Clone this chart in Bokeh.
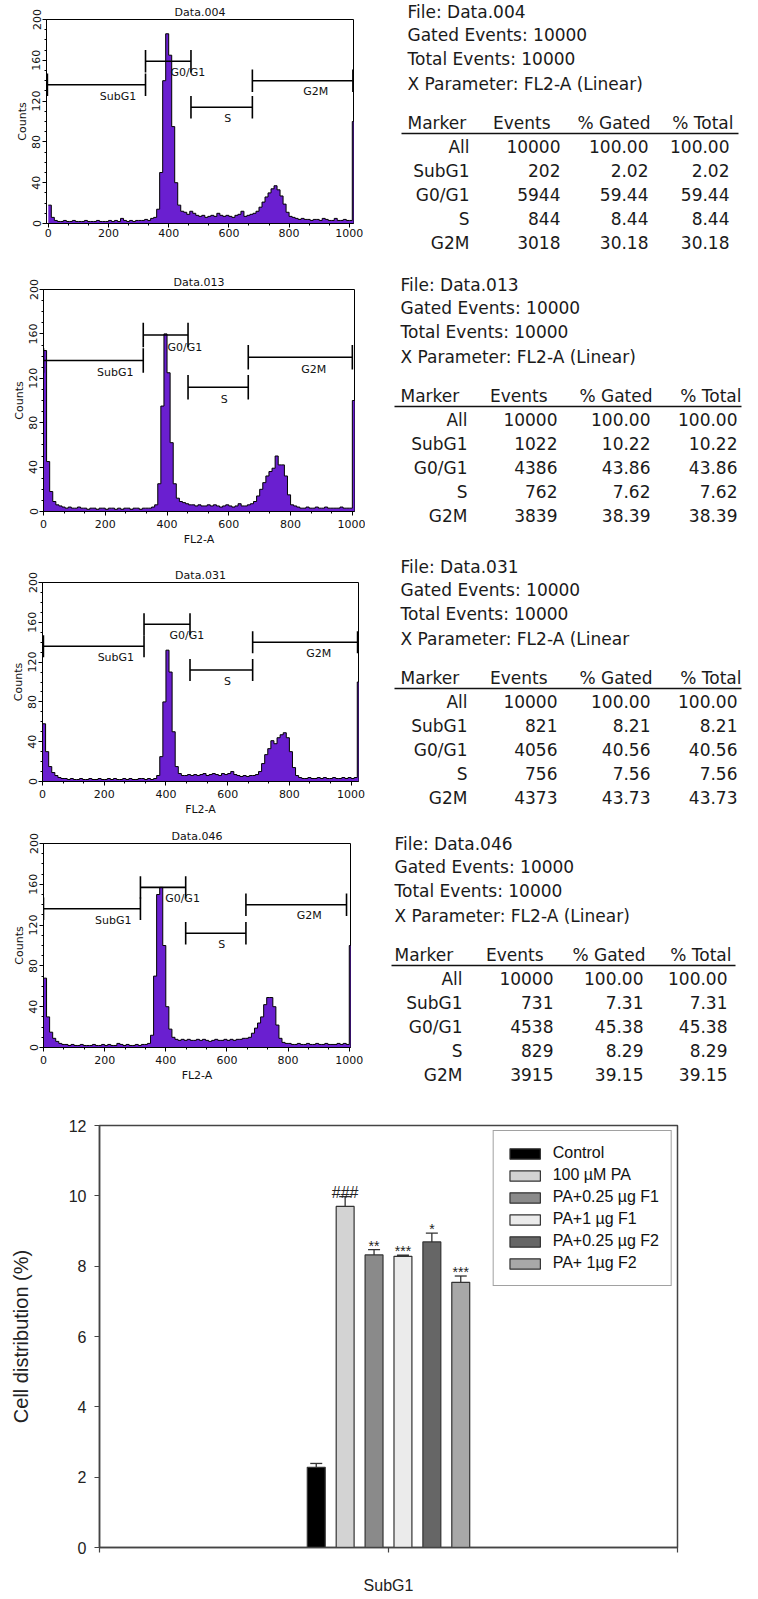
import numpy as np
from bokeh.plotting import figure
from bokeh.layouts import column, row
from bokeh.models import (ColumnDataSource, FixedTicker, Legend, LegendItem,
                          Whisker, TeeHead, Range1d, Label)
from bokeh.core.properties import value
from bokeh.embed import file_html
from bokeh.resources import INLINE

# ------------------------------------------------------------------ data
bin_left = list(range(0, 1030, 10))      # FL2-A channel, left edge of each 10-channel bin
BIN_W = 10

files = ["Data.004", "Data.013", "Data.031", "Data.046"]

counts_004 = [
    18, 6, 3, 2, 2, 3, 2, 2, 3, 2,
    2, 2, 3, 2, 2, 2, 3, 2, 2, 2,
    3, 2, 3, 2, 5, 3, 2, 3, 2, 3,
    3, 3, 4, 3, 5, 6, 14, 50, 140, 186,
    165, 95, 40, 18, 12, 11, 9, 12, 10, 8,
    7, 8, 6, 7, 8, 7, 10, 8, 7, 8,
    7, 6, 8, 9, 12, 7, 8, 9, 10, 12,
    16, 21, 26, 30, 34, 37, 33, 27, 19, 11,
    7, 6, 5, 4, 5, 4, 4, 3, 4, 4,
    3, 5, 4, 3, 3, 5, 3, 3, 4, 3,
    3, 100, 3,
]
counts_013 = [
    145, 45, 18, 9, 6, 5, 4, 3, 4, 3,
    3, 4, 3, 3, 2, 3, 3, 2, 3, 3,
    2, 3, 3, 2, 3, 2, 3, 3, 2, 3,
    3, 2, 3, 3, 3, 4, 6, 25, 95, 160,
    125, 62, 25, 12, 9, 8, 7, 6, 6, 5,
    6, 5, 5, 6, 5, 6, 5, 4, 5, 6,
    5, 4, 5, 7, 5, 5, 6, 7, 9, 14,
    20, 26, 32, 36, 39, 50, 42, 42, 32, 15,
    6, 5, 4, 3, 3, 4, 3, 3, 4, 3,
    3, 4, 3, 3, 3, 3, 4, 3, 3, 3,
    100, 3, 3,
]
counts_031 = [
    58, 30, 15, 9, 6, 4, 3, 3, 2, 3,
    2, 2, 3, 2, 2, 3, 2, 2, 3, 2,
    2, 3, 2, 3, 2, 2, 3, 2, 3, 2,
    2, 3, 3, 2, 3, 2, 3, 6, 25, 80,
    132, 110, 50, 15, 8, 6, 6, 7, 6, 7,
    6, 7, 8, 6, 7, 8, 7, 6, 8, 7,
    8, 10, 7, 6, 5, 6, 5, 6, 6, 7,
    10, 18, 27, 33, 41, 38, 44, 47, 49, 44,
    30, 14, 6, 4, 3, 3, 4, 3, 3, 4,
    3, 4, 3, 3, 4, 3, 3, 4, 3, 4,
    3, 4, 100,
]
counts_046 = [
    68, 30, 15, 9, 6, 4, 3, 3, 2, 3,
    2, 2, 3, 2, 2, 2, 3, 2, 2, 3,
    2, 3, 2, 2, 4, 3, 2, 3, 2, 2,
    3, 2, 3, 3, 4, 12, 70, 150, 157, 100,
    40, 18, 10, 8, 7, 8, 7, 8, 7, 7,
    8, 7, 8, 7, 6, 7, 8, 7, 7, 8,
    7, 8, 7, 8, 8, 9, 9, 10, 14, 19,
    24, 30, 42, 49, 49, 40, 22, 9, 5, 4,
    4, 3, 3, 4, 3, 3, 4, 3, 3, 4,
    3, 3, 4, 3, 3, 3, 4, 3, 4, 3,
    100, 3, 3,
]
all_counts = [counts_004, counts_013, counts_031, counts_046]

gate_names = ["SubG1", "G0/G1", "S", "G2M"]
gate_start = [[-3, 323, 474, 678], [0, 323, 468, 663], [3, 329, 478, 681], [0, 317, 465, 662]]
gate_end = [[323, 474, 678, 1012], [323, 468, 663, 1000], [329, 478, 681, 1021], [317, 465, 662, 991]]
gate_level = [[136, 159, 114, 140], [136, 159, 112, 139], [136, 158, 112, 140], [136, 157, 112, 140]]

markers = ["All", "SubG1", "G0/G1", "S", "G2M"]
events = [
    [10000, 202, 5944, 844, 3018],
    [10000, 1022, 4386, 762, 3839],
    [10000, 821, 4056, 756, 4373],
    [10000, 731, 4538, 829, 3915],
]
pct_gated = [
    [100.00, 2.02, 59.44, 8.44, 30.18],
    [100.00, 10.22, 43.86, 7.62, 38.39],
    [100.00, 8.21, 40.56, 7.56, 43.73],
    [100.00, 7.31, 45.38, 8.29, 39.15],
]
pct_total = [
    [100.00, 2.02, 59.44, 8.44, 30.18],
    [100.00, 10.22, 43.86, 7.62, 38.39],
    [100.00, 8.21, 40.56, 7.56, 43.73],
    [100.00, 7.31, 45.38, 8.29, 39.15],
]
x_param = ["X Parameter: FL2-A (Linear)", "X Parameter: FL2-A (Linear)",
           "X Parameter: FL2-A (Linear", "X Parameter: FL2-A (Linear)"]
gated_total = [10000, 10000, 10000, 10000]
header = ["Marker", "Events", "% Gated", "% Total"]

treatments = ["Control", "100 \u00b5M PA", "PA+0.25 \u00b5g F1", "PA+1 \u00b5g F1",
              "PA+0.25 \u00b5g F2", "PA+ 1\u00b5g F2"]
subg1_mean = [2.28, 9.70, 8.32, 8.28, 8.69, 7.54]
subg1_err = [0.11, 0.28, 0.15, 0.03, 0.25, 0.18]
signif = ["", "###", "**", "***", "*", "***"]
bar_colors = ["#000000", "#d3d3d3", "#8a8a8a", "#ebebeb", "#666666", "#a8a8a8"]

# ------------------------------------------------------------------ style / layout
PURPLE = "#6a1fd0"
HFONT = "DejaVu Sans"
TFONT = "DejaVu Sans"
BFONT = "Liberation Sans"
HIST_W = 365
TABLE_W = 385
ROW_H = [254, 294, 270, 274]
HIST_BORDERS = [(46, 12, 19, 31), (43, 11, 35, 36), (42, 7, 34, 36), (43, 15, 25, 45)]
HIST_XR = [(-6, 1014), (0, 1007), (0, 1024), (0, 1004)]
LABEL_FRAC = [0.72, 0.93, 0.6, 0.63]
TICK_HALF = 11

TABLE_TOP = [11, 30, 18, 25]
TABLE_XL = [42, 35, 35, 29]
TABLE_COLS = [[104, 195, 283, 364], [102, 192, 285, 372], [102, 192, 285, 372], [97, 188, 278, 362]]
TABLE_LINE = [(36, 373), (29, 376), (29, 376), (26, 370)]
HDR_SHIFT = [-10, 2, 4]
INFO_OFF = [0, 23, 47, 72]
HDR_OFF = 111
LINE_OFF = 122
ROW0_OFF = 135
ROW_STEP = 24


def hist_panel(i):
    left, right, top, bottom = HIST_BORDERS[i]
    p = figure(width=HIST_W, height=ROW_H[i], x_range=Range1d(*HIST_XR[i]),
               y_range=Range1d(0, 200), min_border_left=left, min_border_right=right,
               min_border_top=top, min_border_bottom=bottom, toolbar_location=None,
               output_backend="svg", title=files[i], frame_align=False)
    cnt = all_counts[i]
    xs = bin_left + [bin_left[-1] + BIN_W]
    ys = cnt + [cnt[-1]]
    p.varea_step(x=xs, y1=[0] * len(xs), y2=ys, step_mode="after", fill_color=PURPLE)
    p.step(x=xs, y=ys, mode="after", line_color="black", line_width=1)

    x0s, x1s, gy = gate_start[i], gate_end[i], gate_level[i]
    p.segment(x0=x0s, y0=gy, x1=x1s, y1=gy, line_color="black", line_width=1.6)
    p.segment(x0=x0s, y0=[y - TICK_HALF for y in gy], x1=x0s, y1=[y + TICK_HALF for y in gy],
              line_color="black", line_width=1.6)
    p.segment(x0=x1s, y0=[y - TICK_HALF for y in gy], x1=x1s, y1=[y + TICK_HALF for y in gy],
              line_color="black", line_width=1.6)
    lx = [a + f * (b - a) for a, b, f in zip(x0s, x1s, LABEL_FRAC)]
    ly = [y - 11 for y in gy]
    p.text(x=lx, y=ly, text=gate_names, text_align="center", text_baseline="middle",
           text_font=value(HFONT), text_font_size="11px", text_color="#111111")

    p.title.align = "center"
    p.title.text_font = HFONT
    p.title.text_font_size = "11px"
    p.title.text_font_style = "normal"
    p.title.text_color = "#111111"
    p.title.standoff = 2

    p.grid.visible = False
    p.outline_line_color = "black"
    p.outline_line_width = 1
    p.xaxis.ticker = FixedTicker(ticks=[0, 200, 400, 600, 800, 1000],
                                 minor_ticks=[k * 200 / 3 for k in range(16)])
    p.yaxis.ticker = FixedTicker(ticks=[0, 40, 80, 120, 160, 200],
                                 minor_ticks=list(range(0, 201, 10)))
    for ax in (p.xaxis, p.yaxis):
        ax.axis_line_color = "black"
        ax.major_tick_line_color = "black"
        ax.minor_tick_line_color = "black"
        ax.major_tick_out = 4
        ax.major_tick_in = 0
        ax.minor_tick_out = 2
        ax.minor_tick_in = 0
        ax.major_label_text_font = HFONT
        ax.major_label_text_font_size = "11px"
        ax.major_label_text_color = "#111111"
        ax.axis_label_text_font = HFONT
        ax.axis_label_text_font_size = "11px"
        ax.axis_label_text_font_style = "normal"
        ax.axis_label_text_color = "#111111"
    p.yaxis.major_label_orientation = "vertical"
    p.yaxis.major_label_standoff = 2
    p.yaxis.axis_label = "Counts"
    p.yaxis.axis_label_standoff = 1
    if i == 0:
        p.xaxis.major_label_standoff = 1
    else:
        p.xaxis.major_label_standoff = 4
        p.xaxis.axis_label = "FL2-A"
        p.xaxis.axis_label_standoff = 2
    return p


def table_panel(i):
    h = ROW_H[i]
    # frame = whole figure, data units = pixels from the top-left corner
    t = figure(width=TABLE_W, height=h, x_range=Range1d(0, TABLE_W), y_range=Range1d(h, 0),
               min_border=0, x_axis_location=None, y_axis_location=None,
               toolbar_location=None, output_backend="svg", frame_align=False)
    t.grid.visible = False
    t.outline_line_color = None
    top, xl, cols = TABLE_TOP[i], TABLE_XL[i], TABLE_COLS[i]

    def lab(x, y, s, align):
        t.add_layout(Label(x=x, y=y, text=s, text_align=align, text_baseline="middle",
                           text_font=TFONT, text_font_size="17px", text_color="#1a1a1a"))

    info = ["File: " + files[i], "Gated Events: %d" % gated_total[i],
            "Total Events: %d" % gated_total[i], x_param[i]]
    for s, o in zip(info, INFO_OFF):
        lab(xl, top + o, s, "left")
    lab(xl, top + HDR_OFF, header[0], "left")
    for s, c, sh in zip(header[1:], cols[1:], HDR_SHIFT):
        lab(c + sh, top + HDR_OFF, s, "right")
    l0, l1 = TABLE_LINE[i]
    t.segment(x0=[l0], y0=[top + LINE_OFF], x1=[l1], y1=[top + LINE_OFF],
              line_color="#111111", line_width=1.5)
    for k in range(len(markers)):
        y = top + ROW0_OFF + ROW_STEP * k
        lab(cols[0], y, markers[k], "right")
        lab(cols[1], y, str(events[i][k]), "right")
        lab(cols[2], y, "%.2f" % pct_gated[i][k], "right")
        lab(cols[3], y, "%.2f" % pct_total[i][k], "right")
    return t


rows = [row(hist_panel(i), table_panel(i)) for i in range(4)]

# ------------------------------------------------------------------ bar chart
BAR_W = 750
bp = figure(width=BAR_W, height=504, x_range=Range1d(-10, 10), y_range=Range1d(0, 12),
            min_border_left=99, min_border_right=73, min_border_top=33, min_border_bottom=48,
            toolbar_location=None, output_backend="svg", frame_align=False)
offsets = [k - 2.5 for k in range(len(treatments))]
items = []
for k in range(len(treatments)):
    r = bp.vbar(x=[offsets[k]], top=[subg1_mean[k]], width=0.62, fill_color=bar_colors[k],
                line_color="#333333", line_width=1.2)
    items.append(LegendItem(label=treatments[k], renderers=[r]))

upper = [m + e for m, e in zip(subg1_mean, subg1_err)]
esrc = ColumnDataSource(dict(x=offsets, top=subg1_mean, upper=upper, lab=signif,
                             fs=["16px" if "#" in s else "14px" for s in signif]))
bp.add_layout(Whisker(source=esrc, base="x", upper="upper", lower="top", dimension="height",
                      line_color="#333333", line_width=1.3,
                      upper_head=TeeHead(size=12, line_color="#333333", line_width=1.3),
                      lower_head=None))
bp.text(x="x", y="upper", text="lab", source=esrc, text_align="center",
        text_baseline="alphabetic", y_offset=-4, text_font=value(BFONT),
        text_font_size="fs", text_color="#222222")

legend = Legend(items=items, location="top_right", margin=5, padding=12, spacing=2,
                glyph_width=38, glyph_height=13, label_height=20, label_standoff=9,
                label_text_font=BFONT, label_text_font_size="16px", label_text_color="#111111",
                border_line_color="#444444", border_line_width=1.5, background_fill_alpha=1)
bp.add_layout(legend)

bp.grid.visible = False
bp.outline_line_color = "#444444"
bp.outline_line_width = 1.5
bp.xaxis.ticker = FixedTicker(ticks=[-10, 0, 10])
bp.xaxis.major_label_overrides = {-10: "", 0: "SubG1", 10: ""}
bp.yaxis.ticker = FixedTicker(ticks=[0, 2, 4, 6, 8, 10, 12])
for ax in (bp.xaxis, bp.yaxis):
    ax.axis_line_color = "#444444"
    ax.axis_line_width = 1.5
    ax.major_tick_line_color = "#444444"
    ax.major_tick_line_width = 1.2
    ax.major_tick_out = 5
    ax.major_tick_in = 0
    ax.minor_tick_line_color = None
    ax.major_label_text_font = BFONT
    ax.major_label_text_font_size = "16px"
    ax.major_label_text_color = "#222222"
bp.xaxis.major_label_standoff = 24
bp.yaxis.major_label_standoff = 8
bp.yaxis.axis_label = "Cell distribution (%)"
bp.yaxis.axis_label_text_font = BFONT
bp.yaxis.axis_label_text_font_size = "20px"
bp.yaxis.axis_label_text_font_style = "normal"
bp.yaxis.axis_label_text_color = "#222222"
bp.yaxis.axis_label_standoff = 34

layout = column(*rows, bp)
open("out.html", "w").write(file_html(layout, INLINE, title="Cell cycle"))
